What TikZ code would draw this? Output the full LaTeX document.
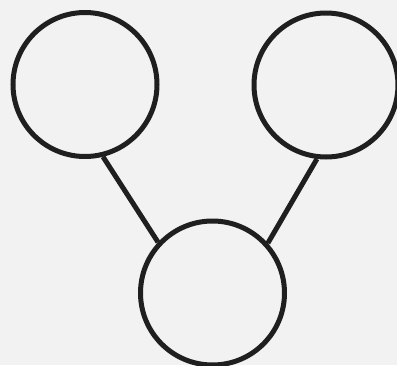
\documentclass[tikz,border=0pt]{standalone}
\begin{document}
\begin{tikzpicture}[x=1pt,y=1pt,
  ring/.style={circle,draw=black!88,line width=5pt,minimum size=144pt,inner sep=0pt},
  link/.style={draw=black!88,line width=5pt}]
\fill[black!5] (0,0) rectangle (397,-365);
\useasboundingbox (0,0) rectangle (397,-365);
\node[ring] (L) at (85,-84.5) {};
\node[ring] (R) at (326,-85) {};
\node[ring] (B) at (212.5,-293) {};
\draw[link] (L.-76) -- (B.137);
\draw[link] (R.-97) -- (B.42);
\end{tikzpicture}
\end{document}
